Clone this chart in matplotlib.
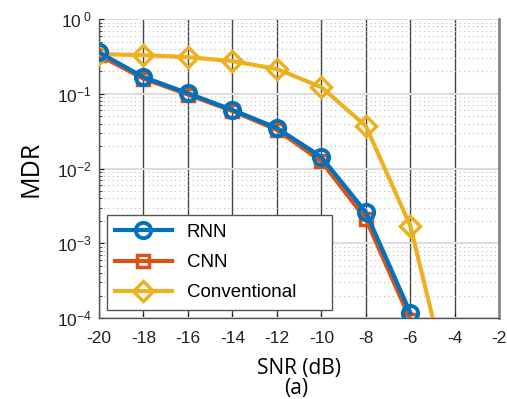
import numpy as np
import matplotlib.pyplot as plt
from matplotlib.ticker import LogLocator, NullFormatter, NullLocator

snr = [-20, -18, -16, -14, -12, -10, -8, -6]
rnn = [0.36, 0.168, 0.102, 0.061, 0.035, 0.0143, 0.0026, 1.17e-4]
cnn = [0.33, 0.16, 0.098, 0.059, 0.033, 0.0125, 0.0021, 9.5e-5]
snr_conv = [-20, -18, -16, -14, -12, -10, -8, -6, -4]
conv = [0.34, 0.33, 0.31, 0.275, 0.215, 0.123, 0.037, 0.0017, 6e-6]

xticks = [-20, -18, -16, -14, -12, -10, -8, -6, -4, -2]
yticks = [1e-4, 1e-3, 1e-2, 1e-1, 1]
ylabels = [r'10$^{-4}$', r'10$^{-3}$', r'10$^{-2}$', r'10$^{-1}$', r'10$^{\ 0}$']

plt.rcParams['font.family'] = ['Liberation Sans', 'DejaVu Sans']
plt.rcParams['mathtext.fontset'] = 'custom'
plt.rcParams['mathtext.rm'] = 'Liberation Sans'
plt.rcParams['mathtext.it'] = 'Liberation Sans'
plt.rcParams['mathtext.default'] = 'regular'

fig = plt.figure(figsize=(5.07, 3.99), dpi=100)
ax = fig.add_axes([0.195, 0.203, 0.790, 0.749])

ax.plot(snr, rnn, '-o', color='#0072BD', lw=3, ms=11, mfc='none', mew=2.8,
        label='RNN', zorder=4)
ax.plot(snr, cnn, '-s', color='#D95319', lw=3, ms=9, mfc='none', mew=2.5,
        label='CNN', zorder=3)
ax.plot(snr_conv, conv, '-D', color='#EDB120', lw=3, ms=10, mfc='none', mew=2.5,
        label='Conventional', zorder=3)

ax.set_yscale('log')
ax.set_xlim(-20, -2)
ax.set_ylim(1e-4, 1)
ax.set_xticks(xticks)
ax.set_xticklabels([str(t) for t in xticks])
ax.set_yticks(yticks)
ax.set_yticklabels(ylabels)
ax.yaxis.set_minor_locator(LogLocator(base=10, subs=np.arange(2, 10)))
ax.yaxis.set_minor_formatter(NullFormatter())
ax.xaxis.set_minor_locator(NullLocator())

# grid: dark vertical majors, light horizontal majors, dotted horizontal minors
ax.grid(True, axis='x', which='major', color='#444444', lw=1)
ax.grid(True, axis='y', which='major', color='#dddddd', lw=1.5)
ax.grid(True, axis='y', which='minor', color='#bbbbbb', ls=(0, (1, 3)), lw=0.8)
ax.set_axisbelow(True)

ax.tick_params(which='both', direction='in', labelsize=12.5, colors='#222222')
ax.tick_params(axis='x', pad=9)
ax.tick_params(axis='y', pad=5)
ax.tick_params(which='minor', length=2)
for s in ax.spines.values():
    s.set_color('#555555')
    s.set_linewidth(1)
ax.spines['top'].set_visible(False)
ax.spines['right'].set_linewidth(2)
ax.spines['right'].set_color('#888888')

ax.set_ylabel('MDR', fontsize=18, family=['Open Sans', 'DejaVu Sans'], labelpad=10)
ax.set_xlabel('SNR (dB)', fontsize=15, family=['Open Sans', 'DejaVu Sans'], labelpad=9)
fig.text(0.585, 0.0, '(a)', fontsize=15, family=['Open Sans', 'DejaVu Sans'],
         ha='center', va='bottom')

leg = ax.legend(loc='lower left', bbox_to_anchor=(0.02, 0.027, 0.562, 0.3),
                mode='expand', fontsize=13.5,
                fancybox=False, framealpha=1, edgecolor='#555555',
                handlelength=3, borderpad=0.45, labelspacing=0.7, borderaxespad=0)
leg.get_frame().set_linewidth(1)

fig.savefig('out.png', dpi=100)
